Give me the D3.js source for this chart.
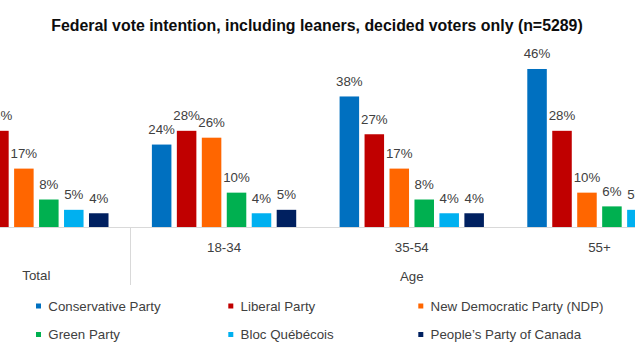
<!DOCTYPE html>
<html>
<head>
<meta charset="utf-8">
<script src="https://cdn.jsdelivr.net/npm/d3@7"></script>
<style>
  html, body { margin: 0; padding: 0; background: #fff; }
  svg { display: block; font-family: "Liberation Sans", Arial, sans-serif; }
</style>
</head>
<body>
<svg id="chart" width="635" height="357"></svg>
<script>
const title = "Federal vote intention, including leaners, decided voters only (n=5289)";
const categories = ["Total", "18-34", "35-54", "55+"];
const groupLabel = "Age";
const series = ["Conservative Party", "Liberal Party", "New Democratic Party (NDP)", "Green Party", "Bloc Québécois", "People’s Party of Canada"];
const colors = ["#0070C0", "#C00000", "#FF6600", "#00B050", "#00B0F0", "#002060"];
const conservative = [37, 24, 38, 46];
const liberal = [28, 28, 27, 28];
const ndp = [17, 26, 17, 10];
const green = [8, 10, 8, 6];
const bloc = [5, 4, 4, 5];
const ppc = [4, 5, 4, 3];
const seriesValues = [conservative, liberal, ndp, green, bloc, ppc];

const svg = d3.select("#chart");
const baseY = 227;

const x0 = d3.scaleBand().domain(categories).range([-57.5, 693.3]).padding(0);
const x1 = d3.scaleBand().domain(series).range([0, x0.bandwidth()]).paddingInner(0.218).paddingOuter(0.869);
const y = d3.scaleLinear().domain([0, 50]).range([baseY, 55.25]);

// title
const t = svg.append("text")
  .attr("x", 317).attr("y", 31)
  .attr("text-anchor", "middle")
  .attr("font-weight", "bold")
  .attr("font-size", 16)
  .attr("fill", "#0d0d0d")
  .text(title);
const tw = t.node().getComputedTextLength();
t.attr("font-size", 16 * 532 / tw);

// bars
const groups = svg.append("g").selectAll("g")
  .data(categories)
  .join("g")
  .attr("transform", d => `translate(${x0(d)},0)`);

groups.each(function(cat, ci) {
  const g = d3.select(this);
  const data = series.map((s, si) => ({ s, si, v: seriesValues[si][ci] }));
  g.selectAll("rect").data(data).join("rect")
    .attr("x", d => x1(d.s))
    .attr("width", x1.bandwidth())
    .attr("y", d => y(d.v))
    .attr("height", d => baseY - y(d.v))
    .attr("fill", d => colors[d.si]);
  g.selectAll("text.lbl").data(data).join("text")
    .attr("class", "lbl")
    .attr("x", d => x1(d.s) + x1.bandwidth() / 2)
    .attr("y", d => y(d.v) - 10.5)
    .attr("text-anchor", "middle")
    .attr("font-size", 13.3)
    .attr("fill", "#404040")
    .text(d => d.v + "%");
});

// axis line
svg.append("line")
  .attr("x1", 0).attr("x2", 635)
  .attr("y1", baseY + 0.5).attr("y2", baseY + 0.5)
  .attr("stroke", "#d9d9d9").attr("stroke-width", 1);

// separator between Total and Age
const sepX = Math.round(x0("18-34")) + 0.5;
svg.append("line")
  .attr("x1", sepX).attr("x2", sepX)
  .attr("y1", baseY).attr("y2", 285)
  .attr("stroke", "#d9d9d9").attr("stroke-width", 1);

// category labels
svg.append("g").selectAll("text")
  .data(categories.slice(1))
  .join("text")
  .attr("x", d => x0(d) + x0.bandwidth() / 2)
  .attr("y", 251.5)
  .attr("text-anchor", "middle")
  .attr("font-size", 13.3)
  .attr("fill", "#404040")
  .text(d => d);

svg.append("text")
  .attr("x", x0("Total") + x0.bandwidth() / 2)
  .attr("y", 280)
  .attr("text-anchor", "middle")
  .attr("font-size", 13.3)
  .attr("fill", "#404040")
  .text("Total");

svg.append("text")
  .attr("x", x0("35-54") + x0.bandwidth() / 2)
  .attr("y", 280.5)
  .attr("text-anchor", "middle")
  .attr("font-size", 13.3)
  .attr("fill", "#404040")
  .text(groupLabel);

// legend
const legX = [36, 228.3, 418.3];
const legY = [306, 334.5];
const leg = svg.append("g").selectAll("g")
  .data(series)
  .join("g")
  .attr("transform", (d, i) => `translate(${legX[i % 3]},${legY[Math.floor(i / 3)]})`);
leg.append("rect")
  .attr("x", 0).attr("y", -2.5)
  .attr("width", 5).attr("height", 5)
  .attr("fill", (d, i) => colors[i]);
leg.append("text")
  .attr("x", 12.3).attr("y", 4.8)
  .attr("font-size", 13.3)
  .attr("fill", "#404040")
  .text(d => d);
</script>
</body>
</html>
